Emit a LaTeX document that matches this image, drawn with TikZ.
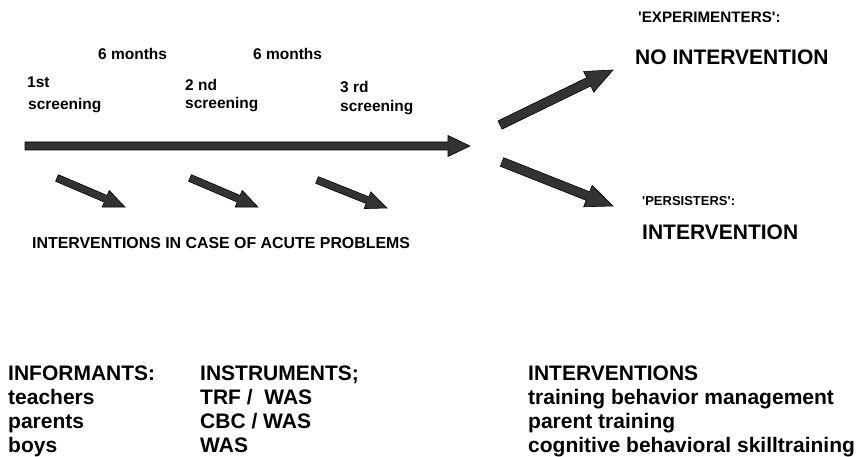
\documentclass[tikz,border=0pt]{standalone}
\usepackage{fontspec}
\setmainfont{Liberation Sans}
\newfontfamily\plainfont{Liberation Sans}
\usetikzlibrary{calc}
\definecolor{arrowfill}{HTML}{333333}
\tikzset{
  blockarrow/.style={fill=arrowfill, draw=black, line width=0.6pt, line join=miter},
  smalllab/.style={anchor=base west, inner sep=0pt, font=\plainfont\bfseries\fontsize{15.5}{18}\selectfont},
  perslab/.style={anchor=base west, inner sep=0pt, font=\plainfont\bfseries\fontsize{13}{16}\selectfont},
  biglab/.style={anchor=base west, inner sep=0pt, font=\plainfont\bfseries\fontsize{21}{25}\selectfont},
  botlab/.style={anchor=base west, inner sep=0pt, font=\plainfont\bfseries\fontsize{21}{24}\selectfont},
}
% #1 tail, #2 tip, #3 shaft half width, #4 head half width, #5 head length
\newcommand\myblockarrow[5]{%
  \path ($(#2)!#5!(#1)$) coordinate (bh);
  \filldraw[blockarrow] ($(#1)!#3!90:(#2)$) -- ($(bh)!#3!-90:(#1)$) -- ($(bh)!#4!-90:(#1)$)
    -- (#2) -- ($(bh)!#4!90:(#1)$) -- ($(bh)!#3!90:(#1)$) -- ($(#1)!#3!-90:(#2)$) -- cycle;}
\begin{document}
\begin{tikzpicture}[x=1pt,y=-1pt]
\useasboundingbox (0,0) rectangle (859,457);
% coordinates
\coordinate (mainT) at (25,146);
\coordinate (mainH) at (470,146);
\coordinate (upT) at (500,125);
\coordinate (upH) at (613,70);
\coordinate (dnT) at (502,162);
\coordinate (dnH) at (613,206);
\coordinate (s1T) at (57,178);
\coordinate (s1H) at (125,207);
\coordinate (s2T) at (190,178);
\coordinate (s2H) at (258,207);
\coordinate (s3T) at (317,180);
\coordinate (s3H) at (387,208);
% arrows
\myblockarrow{mainT}{mainH}{4pt}{10.5pt}{22pt}
\myblockarrow{upT}{upH}{4.6pt}{11.5pt}{27pt}
\myblockarrow{dnT}{dnH}{4.6pt}{11.5pt}{27pt}
\myblockarrow{s1T}{s1H}{3.6pt}{9pt}{21pt}
\myblockarrow{s2T}{s2H}{3.6pt}{9pt}{21pt}
\myblockarrow{s3T}{s3H}{3.6pt}{9pt}{21pt}
% timeline labels
\node[smalllab] (m1) at (98,60) {6 months};
\node[smalllab] (m2) at (253,60) {6 months};
\node[smalllab] (f1) at (27,88) {1st};
\node[smalllab] (f2) at (28,110) {screening};
\node[smalllab] (n1) at (185,91) {2 nd};
\node[smalllab] (n2) at (185,109) {screening};
\node[smalllab] (r1) at (340,93) {3 rd};
\node[smalllab] (r2) at (340,112) {screening};
\node[smalllab, font=\plainfont\bfseries\fontsize{15.9}{18}\selectfont] (acute) at (32,248) {INTERVENTIONS IN CASE OF ACUTE PROBLEMS};
% outcomes
\node[smalllab, font=\plainfont\bfseries\fontsize{15.2}{18}\selectfont] (exp) at (638,23) {\textquotesingle EXPERIMENTERS\textquotesingle:};
\node[biglab] (noint) at (635,65) {NO INTERVENTION};
\node[perslab] (pers) at (642,205) {\textquotesingle PERSISTERS\textquotesingle:};
\node[biglab] (int) at (642,240) {INTERVENTION};
% bottom table
\node[botlab] (inf0) at (8,380) {INFORMANTS:};
\node[botlab] (inf1) at (8,404) {teachers};
\node[botlab] (inf2) at (8,428) {parents};
\node[botlab] (inf3) at (8,452) {boys};
\node[botlab] (ins0) at (200,380) {INSTRUMENTS;};
\node[botlab] (ins1) at (200,404) {TRF /\ \ WAS};
\node[botlab] (ins2) at (200,428) {CBC / WAS};
\node[botlab] (ins3) at (200,452) {WAS};
\node[botlab] (iv0) at (528,380) {INTERVENTIONS};
\node[botlab] (iv1) at (528,404) {training behavior management};
\node[botlab] (iv2) at (528,428) {parent training};
\node[botlab] (iv3) at (528,452) {cognitive behavioral skilltraining};
\end{tikzpicture}
\end{document}
